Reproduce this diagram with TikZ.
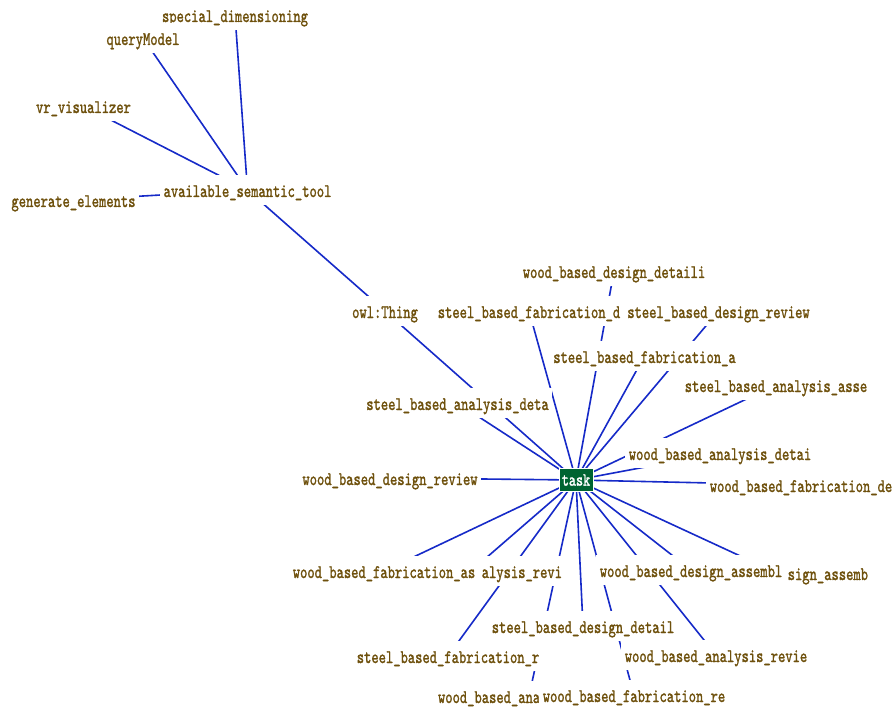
\documentclass[tikz,border=0pt]{standalone}
\usepackage{graphicx}
\usepackage{fontspec}
\newfontfamily\lblfont[Extension=.otf, FakeBold=1.6]{lmmono10-regular}
\definecolor{lblbrown}{RGB}{110,80,12}
\definecolor{edgeblue}{RGB}{22,42,200}
\definecolor{taskgreen}{RGB}{0,100,50}
\pgfdeclarelayer{bglayer}
\pgfdeclarelayer{edgelayer}
\pgfsetlayers{bglayer,edgelayer,main}
\newcommand{\lt}[1]{\scalebox{1}[1.38]{#1}}
\newcommand{\ltr}[1]{\makebox[182pt][r]{\scalebox{1}[1.38]{#1}}}
\newcommand{\ltl}[1]{\makebox[182pt][l]{\scalebox{1}[1.38]{#1}}}
\tikzset{
  lbl/.style={fill=white, inner xsep=3.5pt, inner ysep=0pt,
    text height=22pt, text depth=8pt, text=lblbrown,
    font=\fontsize{13.9}{14}\selectfont\lblfont, anchor=base},
  taskbox/.style={fill=taskgreen, draw=white, line width=0.6pt, text=white,
    minimum width=34pt, minimum height=23pt, inner sep=0pt,
    font=\fontsize{13.5}{14}\selectfont\lblfont},
  edge/.style={draw=edgeblue, line width=1.6pt}
}
\begin{document}
\begin{tikzpicture}[x=1pt,y=-1pt]
\begin{pgfonlayer}{bglayer}
\fill[white] (0,0) rectangle (894,711);
\end{pgfonlayer}
\useasboundingbox (0,0) rectangle (894,711);
% upper cluster
\node[lbl] (sd)  at (235,22)   {\lt{special\_dimensioning}};
\node[lbl] (qm)  at (143,45)   {\lt{queryModel}};
\node[lbl] (vr)  at (83.5,113) {\lt{vr\_visualizer}};
\node[lbl] (ge)  at (73.5,207) {\lt{generate\_elements}};
\node[lbl] (ast) at (247.5,197){\lt{available\_semantic\_tool}};
\node[lbl] (owl) at (385,318)  {\lt{owl:Thing}};
% labels above task
\node[lbl] (wbdd) at (614,278)   {\lt{wood\_based\_design\_detaili}};
\node[lbl] (sbfd) at (529,318)   {\lt{steel\_based\_fabrication\_d}};
\node[lbl] (sbdr) at (718.5,318) {\lt{steel\_based\_design\_review}};
\node[lbl] (sbfa) at (644.5,363) {\lt{steel\_based\_fabrication\_a}};
\node[lbl] (sbaa) at (776,392)   {\lt{steel\_based\_analysis\_asse}};
\node[lbl] (sbad) at (457.5,410) {\lt{steel\_based\_analysis\_deta}};
\node[lbl] (wbad) at (720,460)   {\lt{wood\_based\_analysis\_detai}};
\node[lbl] (wbfd) at (801,492)   {\lt{wood\_based\_fabrication\_de}};
\node[lbl] (wbdr) at (390,485)   {\lt{wood\_based\_design\_review}};
% labels below task
\node[lbl] (sbar) at (471,578)   {\ltr{alysis\_revi}};
\node[lbl] (wbfa) at (384,578)   {\lt{wood\_based\_fabrication\_as}};
\node[lbl] (sbda) at (777,580)   {\ltr{sign\_assemb}};
\node[lbl] (wbda) at (691,577)   {\lt{wood\_based\_design\_assembl}};
\node[lbl] (sbdd) at (583,633)   {\lt{steel\_based\_design\_detail}};
\node[lbl] (wbar) at (716,662)   {\lt{wood\_based\_analysis\_revie}};
\node[lbl] (sbfr) at (448,663)   {\lt{steel\_based\_fabrication\_r}};
\node[lbl] (wban) at (529,703)   {\ltl{wood\_based\_ana}};
\node[lbl] (wbfr) at (634,702)   {\lt{wood\_based\_fabrication\_re}};
% center
\node[taskbox] (task) at (576,480) {\lt{task}};
\begin{pgfonlayer}{edgelayer}
\foreach \n in {sd,qm,vr,ge,owl} \draw[edge] (ast.center) -- (\n.center);
\draw[edge] (owl.center) -- (task.center);
\foreach \n in {wbdd,sbfd,sbdr,sbfa,sbaa,sbad,wbad,wbfd,wbdr,
                sbar,wbfa,sbda,wbda,sbdd,wbar,sbfr,wban,wbfr}
  \draw[edge] (task.center) -- (\n.center);
\end{pgfonlayer}
\end{tikzpicture}
\end{document}
